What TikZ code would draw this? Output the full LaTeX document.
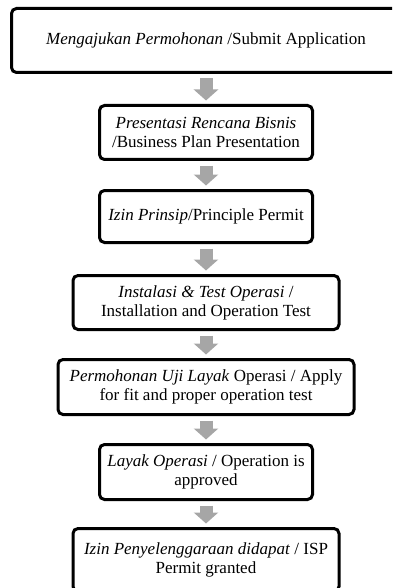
\documentclass[tikz,border=0pt]{standalone}
\usepackage{fontspec}
\setmainfont{Liberation Serif}
\usetikzlibrary{arrows.meta}

\tikzset{
  stepbox/.style={draw, line width=3pt, rounded corners=5pt, align=center,
    outer sep=0pt, inner sep=2pt, font=\fontsize{17}{19}\selectfont},
  downarrow/.style={draw=black!35, line width=13pt,
    -{Triangle[width=24pt,length=11pt]}, shorten <=6pt, shorten >=5pt},
}

\begin{document}
\begin{tikzpicture}[x=1pt,y=-1pt]
    \useasboundingbox (0,0) rectangle (392,588);
    \clip (0,0) rectangle (392,588);

    \node[stepbox, minimum width=389pt, minimum height=64pt] (submit) at (206,40.5)
        {\textit{Mengajukan Permohonan} /Submit Application};
    \node[stepbox, minimum width=213pt, minimum height=54pt] (plan) at (206,132.5)
        {\textit{Presentasi Rencana Bisnis}\\/Business Plan Presentation};
    \node[stepbox, minimum width=213pt, minimum height=52pt] (principle) at (206,216.5)
        {\textit{Izin Prinsip}/Principle Permit};
    \node[stepbox, minimum width=266pt, minimum height=54pt] (install) at (206,302.5)
        {\textit{Instalasi \& Test Operasi} /\\Installation and Operation Test};
    \node[stepbox, minimum width=296pt, minimum height=55pt] (fit) at (206,387)
        {\textit{Permohonan Uji Layak} Operasi / Apply\\for fit and proper operation test};
    \node[stepbox, minimum width=213pt, minimum height=55pt] (approved) at (206,472)
        {\textit{Layak Operasi} / Operation is\\approved};
    \node[stepbox, minimum width=266pt, minimum height=63pt] (granted) at (206,560)
        {\textit{Izin Penyelenggaraan didapat} / ISP\\Permit granted};

    % grey block arrows between the steps
    \foreach \from/\to in {submit/plan, plan/principle, principle/install,
                           install/fit, fit/approved, approved/granted}
        \draw[downarrow] (\from.south) -- (\to.north);
\end{tikzpicture}
\end{document}
